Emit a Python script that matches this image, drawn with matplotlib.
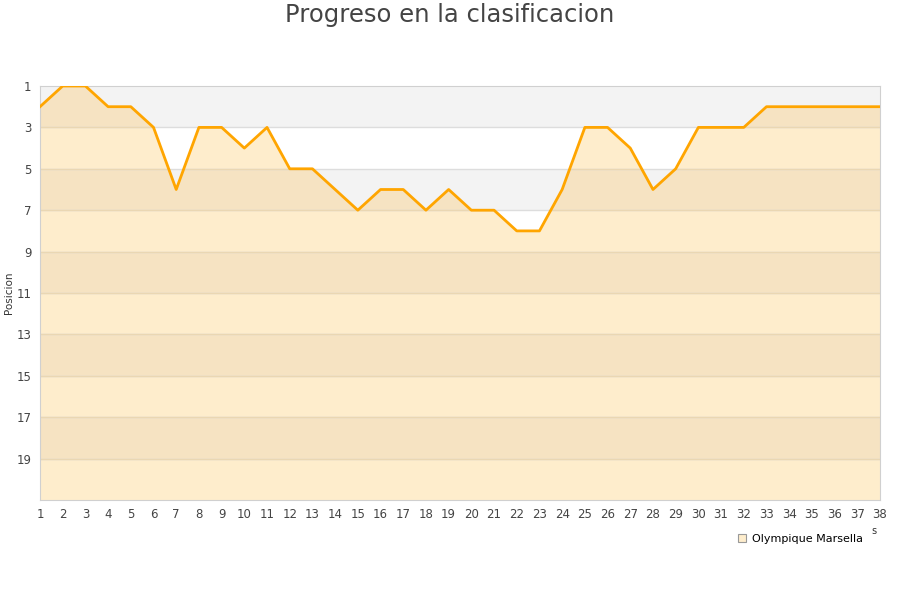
import numpy as np
from matplotlib import pyplot as plt
from matplotlib.lines import Line2D

jornadas = list(range(1, 39))
posicion = [2, 1, 1, 2, 2, 3, 6, 3, 3, 4,
            3, 5, 5, 6, 7, 6, 6, 7, 6, 7,
            7, 8, 8, 6, 3, 3, 4, 6, 5, 3,
            3, 3, 2, 2, 2, 2, 2, 2]
yticks = [1, 3, 5, 7, 9, 11, 13, 15, 17, 19]
equipo = "Olympique Marsella"

fig = plt.figure(figsize=(9, 6), dpi=100)
ax = fig.add_axes([40 / 900, 1 - 500 / 600, 840 / 900, 414 / 600])

# background bands (outside the area)
for i, lo in enumerate(range(1, 21, 2)):
    ax.axhspan(lo, lo + 2, color="#f3f3f3" if i % 2 == 0 else "white", lw=0, zorder=0)

# area under the line
area = ax.fill_between(jornadas, posicion, 21, color="#feedcc", lw=0, zorder=1)
clip = area.get_paths()[0]
for i, lo in enumerate(range(1, 21, 2)):
    if i % 2 == 0:
        band = ax.axhspan(lo, lo + 2, color="#f6e3c2", lw=0, zorder=1.5)
        band.set_clip_path(clip, ax.transData)

# grid lines
for y in yticks[1:]:
    gl = ax.axhline(y, color="#dddddd", lw=1, zorder=2)
    gl2 = ax.axhline(y, color="#ead7b3", lw=1, zorder=2.1)
    gl2.set_clip_path(clip, ax.transData)

ax.plot(jornadas, posicion, color="#ffa500", lw=2, zorder=3)

ax.set_xlim(1, 38)
ax.set_ylim(21, 1)
ax.set_xticks(jornadas)
ax.set_yticks(yticks)
ax.tick_params(length=0, labelsize=8.5, colors="#444444", pad=6)
for s in ax.spines.values():
    s.set_color("#d0d0d0")
ax.set_ylabel("Posicion", fontsize=7.5, color="#333333", labelpad=2)

fig.text(0.5, 0.995, "Progreso en la clasificacion", ha="center", va="top",
         fontsize=17.5, color="#444444")

handle = Line2D([], [], marker="s", ls="none", markersize=6,
                markerfacecolor="#feedcc", markeredgecolor="#999999", markeredgewidth=0.8)
fig.legend([handle], [equipo], loc="center", bbox_to_anchor=(800 / 900, 1 - 539 / 600),
           frameon=False, fontsize=8, handletextpad=0.4, handlelength=1)
fig.text(874 / 900, 1 - 531 / 600, "s", fontsize=7, color="#333333", ha="center", va="center")

fig.savefig("out.png", dpi=100)
